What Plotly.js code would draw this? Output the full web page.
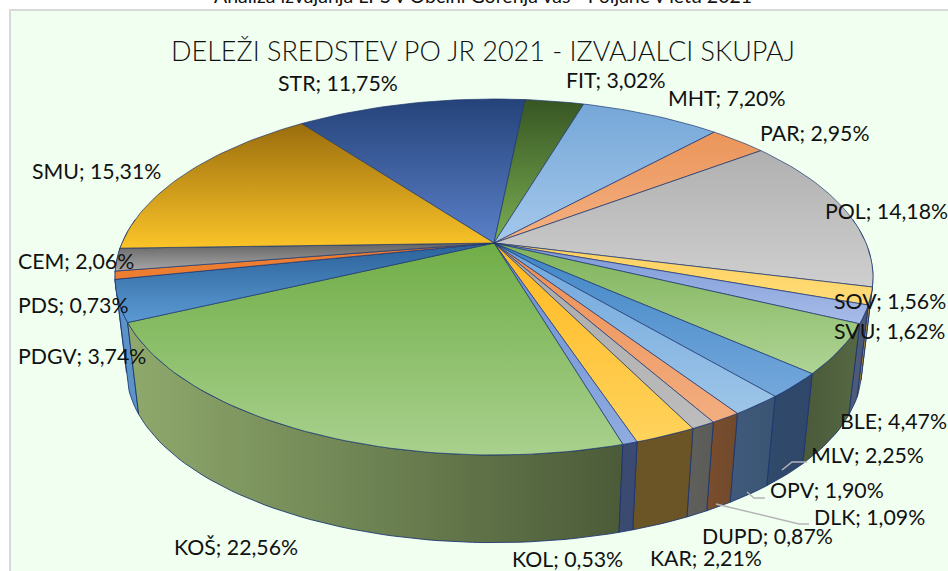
<!DOCTYPE html>
<html>
<head>
<meta charset="utf-8">
<script src="https://cdn.plot.ly/plotly-3.0.1.min.js"></script>
<style>html,body{margin:0;padding:0;background:#fff;overflow:hidden}</style>
</head>
<body>
<div id="chart" style="width:948px;height:571px"></div>
<script>
// ---- data (clockwise from STR) ----
const categories = ["STR","FIT","MHT","PAR","POL","SOV","SVU","BLE","MLV","OPV","DLK","DUPD","KAR","KOL","KOŠ","PDGV","PDS","CEM","SMU"];
const shares     = [11.75,3.02,7.20,2.95,14.18,1.56,1.62,4.47,2.25,1.90,1.09,0.87,2.21,0.53,22.56,3.74,0.73,2.06,15.31];

// ---- styles ----
const topDark   = ["#25437a","#375623","#75a7d8","#eb955a","#b0b0b0","#ffd060","#7a97d6","#7fb35a","#4085c5","#6ea6dc","#ee8d52","#a8a8a8","#ffb820","#6c8ed6","#70ad47","#2a6199","#ed7d31","#636363","#9a6d0d"];
const topLight  = ["#5b80c8","#7aae52","#a5c8eb","#f4b183","#cfcfcf","#ffdc78","#a8bce8","#afd495","#74a8dc","#9ec5e8","#f2ae80","#bdbdbd","#ffd35c","#8facdf","#a9d18e","#5c9ad3","#ed7d31","#a8a8a8","#fbc428"];
const wallLeft  = ["#25437a","#375623","#75a7d8","#eb955a","#8f8f8f","#b08a30","#4f5c7e","#4a5a3a","#2f4a6b","#3f5a7a","#7a4e2e","#5f5f5c","#6b5526","#3a4a70","#8fa96c","#5b93c8","#5b93c8","#636363","#9a6d0d"];
const wallRight = ["#25437a","#375623","#75a7d8","#eb955a","#8f8f8f","#b08a30","#4a5674","#566843","#30476a","#3a5574","#70492c","#5b5b58","#6b5526","#3a4a70","#4b5b38","#5b93c8","#5b93c8","#636363","#9a6d0d"];

// labels and their placement
const labelX = [277,565,667,759,824,833,833,839,810,769,813,701,649,511,173,17,17,17,31];
const labelY = [83,80,98,133,211,301,331,421,455,490,517,536,558,559,547,356,305,261,171];

// ---- projection of the tilted disc ----
const CX = 494, TOPY = 243, BASEY = 337, A = 372, B = 171.5, K = 0.191, BASE_SCALE = 0.97, START = -36.6;
function project(deg, base) {
  const t = deg * Math.PI / 180, u = Math.sin(t), v = -Math.cos(t), w = 1 / (1 - K * v);
  const s = base ? BASE_SCALE : 1;
  return [CX + s * A * u * w, (base ? BASEY : TOPY) + s * B * v * w];
}
function arc(a0, a1, base) {
  const n = Math.max(2, Math.ceil(Math.abs(a1 - a0) / 1.5)), pts = [];
  for (let i = 0; i <= n; i++) pts.push(project(a0 + (a1 - a0) * i / n, base));
  return pts;
}

const edges = [];
let cum = START;
shares.forEach(v => { edges.push([cum, cum + v * 3.6]); cum += v * 3.6; });

const EDGE = "rgba(25,50,110,0.85)";
const walls = [], tops = [];
edges.forEach((e, i) => {
  const a0 = Math.max(e[0], 82), a1 = Math.min(e[1], 278);
  if (a1 > a0) {
    const pts = arc(a0, a1, false).concat(arc(a1, a0, true));
    pts.push(pts[0]);
    walls.push({
      type: "scatter", mode: "lines", hoverinfo: "skip", showlegend: false, fill: "toself",
      x: pts.map(p => p[0]), y: pts.map(p => p[1]),
      line: {color: EDGE, width: 1},
      fillgradient: {type: "horizontal", colorscale: [[0, wallLeft[i]], [1, wallRight[i]]]},
      _depth: -Math.cos((a0 + a1) * Math.PI / 360)
    });
  }
  const apex = [CX, TOPY];
  const pts = [apex].concat(arc(e[0], e[1], false)); pts.push(apex);
  tops.push({
    type: "scatter", mode: "lines", hoverinfo: "text", text: categories[i] + "; " + shares[i].toFixed(2).replace(".", ",") + "%",
    showlegend: false, fill: "toself",
    x: pts.map(p => p[0]), y: pts.map(p => p[1]),
    line: {color: EDGE, width: 0.8},
    fillgradient: {type: "vertical", colorscale: [[0, topLight[i]], [1, topDark[i]]]}
  });
});
walls.sort((a, b) => a._depth - b._depth);

const FONT = "Lato, Carlito, Calibri, sans-serif";
const annotations = categories.map((c, i) => ({
  xref: "x", yref: "y", x: labelX[i], y: labelY[i], xanchor: "left", yanchor: "middle",
  showarrow: false, borderpad: 0, text: c + "; " + shares[i].toFixed(2).replace(".", ",") + "%",
  font: {family: FONT, size: 21.3, color: "#111"}
}));
annotations.push({
  xref: "x", yref: "y", x: 482.5, y: 50, xanchor: "center", yanchor: "middle", showarrow: false, borderpad: 0,
  text: "DELEŽI SREDSTEV PO JR 2021 - IZVAJALCI SKUPAJ",
  font: {family: FONT, size: 27, color: "#111", weight: 300}
});
annotations.push({
  xref: "x", yref: "y", x: 483, y: 8, xanchor: "center", yanchor: "bottom", showarrow: false, borderpad: 0,
  text: "Analiza izvajanja LPS v Občini Gorenja vas - Poljane v letu 2021",
  font: {family: FONT, size: 19.5, color: "#111"}
});

const shapes = [
  {type: "rect", xref: "x", yref: "y", x0: 10, y0: 10, x1: 970, y1: 600, layer: "below",
   fillcolor: "#f0fff0", line: {color: "#d9d9d9", width: 2}},
  {type: "path", xref: "x", yref: "y", path: "M782,470 L792,462 L807,462", line: {color: "#b4b4b4", width: 1.5}},
  {type: "path", xref: "x", yref: "y", path: "M747,492 L754,498 L765,498", line: {color: "#b4b4b4", width: 1.5}},
  {type: "path", xref: "x", yref: "y", path: "M716,504 L799,524 L809,524", line: {color: "#b4b4b4", width: 1.5}}
];

Plotly.newPlot("chart", walls.concat(tops), {
  width: 948, height: 571, margin: {l: 0, r: 0, t: 0, b: 0},
  paper_bgcolor: "#fff", plot_bgcolor: "rgba(0,0,0,0)", showlegend: false,
  xaxis: {range: [0, 948], visible: false, fixedrange: true},
  yaxis: {range: [571, 0], visible: false, fixedrange: true},
  shapes, annotations
}, {displayModeBar: false, staticPlot: true});
</script>
</body>
</html>
